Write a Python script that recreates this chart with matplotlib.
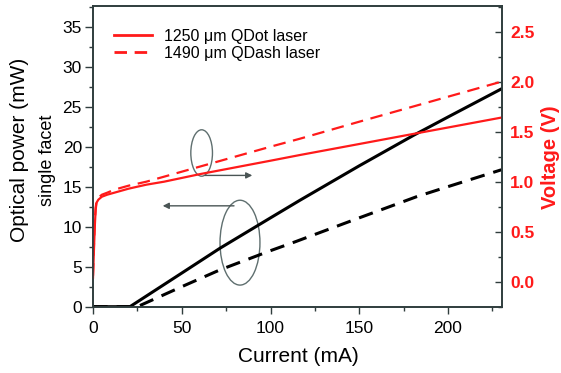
import matplotlib
matplotlib.use("Agg")
import matplotlib.pyplot as plt
from matplotlib.patches import Ellipse
from matplotlib.lines import Line2D

plt.rcParams['font.family'] = ['Liberation Sans', 'DejaVu Sans']
plt.rcParams['lines.scale_dashes'] = False

# Data
current_qdot_v = [0, 0.5, 1, 1.5, 2, 3, 5, 8, 12, 20, 30, 40, 60, 100, 116.6, 150, 180.5, 200, 230]
volt_qdot = [0.04, 0.3, 0.55, 0.72, 0.79, 0.82, 0.85, 0.87, 0.89, 0.93, 0.97, 1.0, 1.075, 1.21, 1.267, 1.377, 1.478, 1.542, 1.641]

current_qdash_v = [0, 0.5, 1, 1.5, 2, 3, 5, 8, 12, 20, 30, 40, 60, 100, 116.6, 150, 200, 230]
volt_qdash = [0.06, 0.35, 0.6, 0.74, 0.81, 0.84, 0.87, 0.89, 0.92, 0.96, 1.0, 1.05, 1.15, 1.35, 1.43, 1.6, 1.85, 2.0]

current_qdot_p = [0, 20.8, 50, 71.5, 100, 116.6, 150, 180.5, 200, 230]
power_qdot = [0, 0, 4.2, 7.3, 11.1, 13.3, 17.6, 21.4, 23.7, 27.2]

current_qdash_p = [0, 25, 50, 71.5, 100, 113.8, 150, 182.4, 200, 230]
power_qdash = [0, 0, 2.5, 4.6, 7.0, 8.1, 11.1, 13.75, 15.0, 17.1]

legend_labels = ["1250 \u03bcm QDot laser", "1490 \u03bcm QDash laser"]

red = "#ff1a1a"
spine_c = "#2f3d3d"

fig = plt.figure(figsize=(5.61, 3.73), dpi=100)
ax = fig.add_axes([93/561, 1-306.7/373, (502-93)/561, (306.7-5.7)/373])
ax2 = ax.twinx()

ax.plot(current_qdot_p, power_qdot, color="black", lw=2.2)
ax.plot(current_qdash_p, power_qdash, color="black", lw=2.2, dashes=(10.5, 6.5))

ax2.plot(current_qdot_v, volt_qdot, color=red, lw=1.6)
ax2.plot(current_qdash_v, volt_qdash, color=red, lw=1.6, dashes=(9, 5.5))

ax.set_xlim(0, 230.4)
ax.set_ylim(0, 37.6)
ax2.set_ylim(-0.25, 2.76)

ax.set_xticks([0, 50, 100, 150, 200])
ax.set_xticks([25, 75, 125, 175, 225], minor=True)
ax.set_yticks([0, 5, 10, 15, 20, 25, 30, 35])
ax.set_yticks([2.5, 7.5, 12.5, 17.5, 22.5, 27.5, 32.5, 37.5], minor=True)
ax2.set_yticks([0.0, 0.5, 1.0, 1.5, 2.0, 2.5])
ax2.set_yticklabels(["0.0", "0.5", "1.0", "1.5", "2.0", "2.5"])
ax2.set_yticks([-0.25, 0.25, 0.75, 1.25, 1.75, 2.25, 2.75], minor=True)

ax.tick_params(axis='x', which='major', direction='out', length=5, width=1, labelsize=12.5, pad=5, color=spine_c)
ax.tick_params(axis='x', which='minor', direction='out', length=3, width=1, color=spine_c)
ax.tick_params(axis='y', which='major', direction='out', length=6, width=1, labelsize=12.5, pad=2, color=spine_c)
ax.tick_params(axis='y', which='minor', direction='out', length=3, width=1, color=spine_c)
ax2.tick_params(axis='y', which='major', direction='in', length=5, width=1, labelsize=12.5, pad=6,
                labelcolor=red, color=spine_c)
ax2.tick_params(axis='y', which='minor', direction='in', length=3, width=1, color=spine_c)
for lab in ax2.get_yticklabels():
    lab.set_fontweight('bold')

for a in (ax, ax2):
    for s in a.spines.values():
        s.set_color(spine_c)
        s.set_linewidth(1.2)

# Axis labels
fig.text(298/561, 1-357/373, "Current (mA)", fontsize=15, ha='center', va='center')
fig.text(20/561, 1-150/373, "Optical power (mW)", fontsize=15, ha='center', va='center', rotation=90)
fig.text(47/561, 1-160/373, "single facet", fontsize=13, ha='center', va='center', rotation=90)
fig.text(550/561, 1-157/373, "Voltage (V)", fontsize=14.5, ha='center', va='center', rotation=90,
         color=red, fontweight='bold')

# Annotations: ellipses and arrows
ecol = "#5f6f6f"
ax.add_patch(Ellipse((61.2, 19.2), 12.2, 5.8, fill=False, edgecolor=ecol, lw=1.0))
ax.add_patch(Ellipse((82.8, 8.0), 22.5, 10.6, fill=False, edgecolor=ecol, lw=1.0))
ax.annotate("", xy=(91.3, 16.4), xytext=(61.5, 16.4),
            arrowprops=dict(arrowstyle="-|>", color="#4a5555", lw=1.0, mutation_scale=9))
ax.annotate("", xy=(37.7, 12.6), xytext=(81.0, 12.6),
            arrowprops=dict(arrowstyle="-|>", color="#4a5555", lw=1.0, mutation_scale=9))

# Legend
handles = [Line2D([], [], color=red, lw=2),
           Line2D([], [], color=red, lw=2, dashes=(9, 5.5))]
ax.legend(handles, legend_labels, loc='upper left', frameon=False, fontsize=11.5,
          handlelength=2.4, handletextpad=0.75, labelspacing=0.15,
          bbox_to_anchor=(0.035, 0.945), borderaxespad=0)

fig.savefig("out.png", dpi=100)
